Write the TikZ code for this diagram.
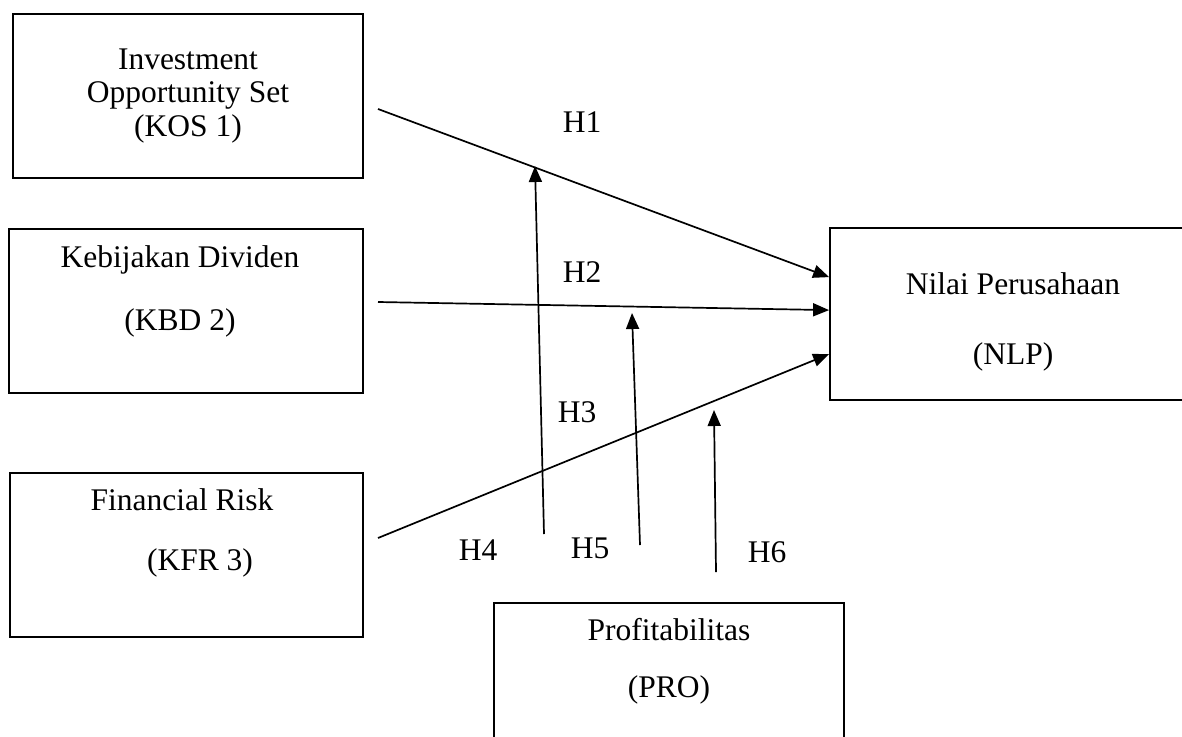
\documentclass[tikz,border=0pt]{standalone}
\usepackage{fontspec}
\setmainfont{Liberation Serif}
\usetikzlibrary{arrows.meta, positioning, calc}
\tikzstyle{varbox} = [rectangle, draw=black, line width=1.8pt, minimum width=350pt, minimum height=164pt, inner sep=0pt]
\tikzstyle{vartext} = [font=\fontsize{31.5}{33.5}\selectfont, align=center, inner sep=0pt]
\tikzstyle{hyp} = [font=\fontsize{31.5}{33.5}\selectfont, inner sep=0pt]
\tikzstyle{arrow} = [line width=1.7pt, -{Triangle[length=16pt, width=13pt]}]

\begin{document}
\begin{tikzpicture}[x=1pt, y=-1pt]
\useasboundingbox (0,0) rectangle (1182,736);

% --- Independent Variables ---
\node (kos) [varbox] at (188,96) {};
\node (kos_text) [vartext] at (kos.center) {Investment\\Opportunity Set\\(KOS 1)};

\node (kbd) [varbox, minimum width=354pt] at (186,311) {};
\node (kbd_text) [vartext, xshift=-6pt, yshift=19.5pt] at (kbd.center) {Kebijakan Dividen\\[29.5pt](KBD 2)};

\node (kfr) [varbox, minimum width=353pt] at (186.5,555) {};
\node (kfr_text) [vartext, xshift=-4.5pt, yshift=22pt] at (kfr.center) {Financial Risk\\[26.5pt]\hspace*{36pt}(KFR 3)};

% --- Dependent Variable ---
\node (nlp) [varbox, minimum width=366pt, minimum height=172pt] at (1013,314) {};
\node (nlp_text) [vartext, yshift=-8pt] at (nlp.center) {Nilai Perusahaan\\[36.5pt](NLP)};

% --- Moderating Variable ---
\node (pro) [varbox] at (669,685) {};
\node (pro_text) [vartext, yshift=23.5pt] at (pro.center) {Profitabilitas\\[23.5pt](PRO)};

% --- Direct Effects ---
\coordinate (kos_out) at (378,109);
\coordinate (kbd_out) at (378,302);
\coordinate (kfr_out) at (378,538);
\coordinate (nlp_in1) at ($(nlp.north west)+(0,50)$);
\coordinate (nlp_in2) at ($(nlp.north west)+(0,83)$);
\coordinate (nlp_in3) at ($(nlp.north west)+(0,127)$);

\draw [arrow] (kos_out) -- (nlp_in1);
\draw [arrow] (kbd_out) -- (nlp_in2);
\draw [arrow] (kfr_out) -- (nlp_in3);

% --- Moderating Effects ---
\coordinate (pro_out1) at (544,534);
\coordinate (pro_out2) at (640,545);
\coordinate (pro_out3) at (716,572);
\coordinate (mod1) at (535,166);
\coordinate (mod2) at (632,313);
\coordinate (mod3) at (714,410);

\draw [arrow] (pro_out1) -- (mod1);
\draw [arrow] (pro_out2) -- (mod2);
\draw [arrow] (pro_out3) -- (mod3);

% --- Hypotheses ---
\node (h1) [hyp] at (582,122) {H1};
\node (h2) [hyp] at (582,272) {H2};
\node (h3) [hyp] at (577,412) {H3};
\node (h4) [hyp] at (478,550) {H4};
\node (h5) [hyp] at (590,548) {H5};
\node (h6) [hyp] at (767,552) {H6};

\end{tikzpicture}
\end{document}
